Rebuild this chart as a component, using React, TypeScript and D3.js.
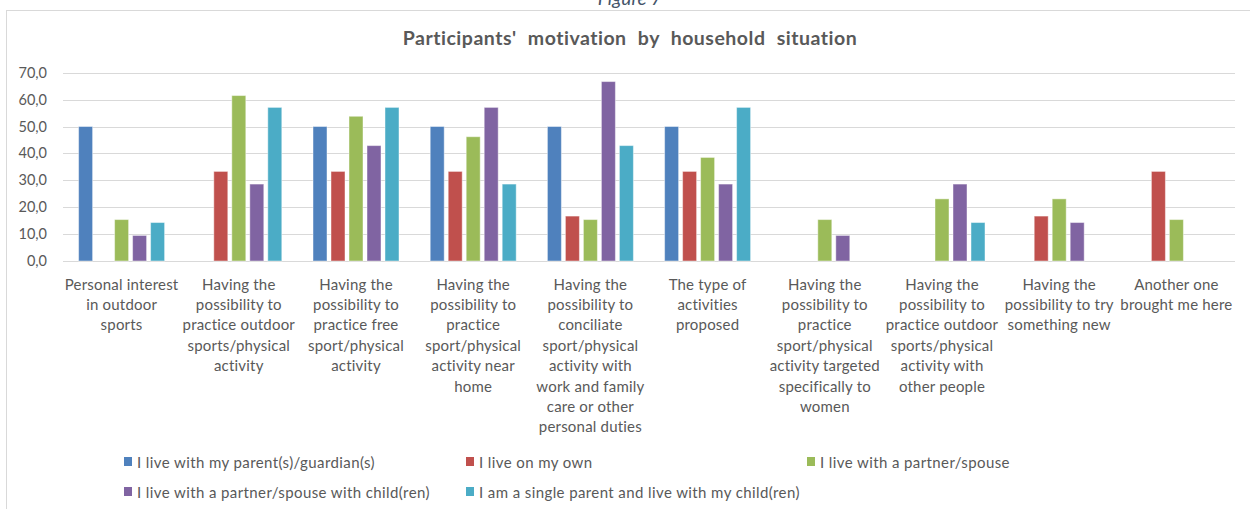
import React from "react";
import * as d3 from "d3";

const categoryLines: string[][] = [
  ["Personal interest", "in outdoor", "sports"],
  ["Having the", "possibility to", "practice outdoor", "sports/physical", "activity"],
  ["Having the", "possibility to", "practice free", "sport/physical", "activity"],
  ["Having the", "possibility to", "practice", "sport/physical", "activity near", "home"],
  ["Having the", "possibility to", "conciliate", "sport/physical", "activity with", "work and family", "care or other", "personal duties"],
  ["The type of", "activities", "proposed"],
  ["Having the", "possibility to", "practice", "sport/physical", "activity targeted", "specifically to", "women"],
  ["Having the", "possibility to", "practice outdoor", "sports/physical", "activity with", "other people"],
  ["Having the", "possibility to try", "something new"],
  ["Another one", "brought me here"],
];
const categories = categoryLines.map((l) => l.join(" "));

const seriesNames = [
  "I live with my parent(s)/guardian(s)",
  "I live on my own",
  "I live with a partner/spouse",
  "I live with a partner/spouse with child(ren)",
  "I am a single parent and live with my child(ren)",
];
const seriesColors = ["#4F81BD", "#C0504D", "#9BBB59", "#8064A2", "#4BACC6"];

const parentValues = [50, 0, 50, 50, 50, 50, 0, 0, 0, 0];
const ownValues = [0, 33.3, 33.3, 33.3, 16.7, 33.3, 0, 0, 16.7, 33.3];
const partnerValues = [15.4, 61.5, 53.8, 46.2, 15.4, 38.5, 15.4, 23.1, 23.1, 15.4];
const partnerChildValues = [9.5, 28.6, 42.9, 57.1, 66.7, 28.6, 9.5, 28.6, 14.3, 0];
const singleParentValues = [14.3, 57.1, 57.1, 28.6, 42.9, 57.1, 0, 14.3, 0, 0];
const seriesValues = [parentValues, ownValues, partnerValues, partnerChildValues, singleParentValues];

const yTicks = [0, 10, 20, 30, 40, 50, 60, 70];
const title = "Participants' motivation by household situation";
const figureLabel = "Figure 7";

const W = 1250;
const H = 509;
const FONT = "Lato, 'Open Sans', sans-serif";
const TEXT = "#595959";

export default function App() {
  const x = d3.scaleBand<string>().domain(categories).range([63, 1235]).paddingInner(0).paddingOuter(0);
  const x1 = d3
    .scaleBand<string>()
    .domain(seriesNames)
    .range([0, x.bandwidth()])
    .paddingInner(4 / 18)
    .paddingOuter(0.867);
  const y = d3.scaleLinear().domain([0, 70]).range([261, 72.7]);
  const fmt = (v: number) => d3.format(".1f")(v).replace(".", ",");

  const legendCols = [124, 466, 807];
  const legendRows = [462, 492];

  return (
    <svg
      width={W}
      height={H}
      style={{ position: "absolute", left: 0, top: 0, background: "#fff" }}
      fontFamily={FONT}
    >
      <rect x={0} y={0} width={W} height={H} fill="#fff" />
      <text x={630} y={5} textAnchor="middle" fontStyle="italic" fontSize={19} fill="#44546A">
        {figureLabel}
      </text>
      <rect x={6.5} y={10.5} width={W + 20} height={H + 20} fill="none" stroke="#D9D9D9" strokeWidth={1} />
      <text
        x={630}
        y={45}
        textAnchor="middle"
        fontWeight="bold"
        fontSize={19.5}
        fill={TEXT}
        wordSpacing={6}
        letterSpacing={0.5}
      >
        {title}
      </text>

      {yTicks.map((t) => (
        <g key={t}>
          <line x1={63} x2={1235} y1={Math.round(y(t)) + 0.5} y2={Math.round(y(t)) + 0.5} stroke="#D9D9D9" strokeWidth={1} />
          <text x={47} y={y(t) + 5} textAnchor="end" fontSize={14.5} fill={TEXT}>
            {fmt(t)}
          </text>
        </g>
      ))}

      {categories.map((c, ci) => (
        <g key={c} transform={`translate(${x(c)},0)`}>
          {seriesNames.map((s, si) => {
            const v = seriesValues[si][ci];
            if (!v) return null;
            return (
              <rect
                key={s}
                x={x1(s)}
                y={y(v)}
                width={x1.bandwidth()}
                height={y(0) - y(v)}
                fill={seriesColors[si]}
                stroke="rgba(255,255,255,0.45)"
                strokeWidth={1}
              />
            );
          })}
          <text textAnchor="middle" fontSize={15} fill={TEXT} letterSpacing={0.2}>
            {categoryLines[ci].map((line, li) => (
              <tspan key={li} x={x.bandwidth() / 2} y={289.5 + li * 20.4}>
                {line}
              </tspan>
            ))}
          </text>
        </g>
      ))}

      {seriesNames.map((s, si) => {
        const lx = legendCols[si % 3];
        const ly = legendRows[Math.floor(si / 3)];
        return (
          <g key={s}>
            <rect x={lx} y={ly - 5} width={8} height={9} fill={seriesColors[si]} />
            <text x={lx + 13} y={ly + 5.5} fontSize={15} fill={TEXT} letterSpacing={0.4}>
              {s}
            </text>
          </g>
        );
      })}
    </svg>
  );
}
